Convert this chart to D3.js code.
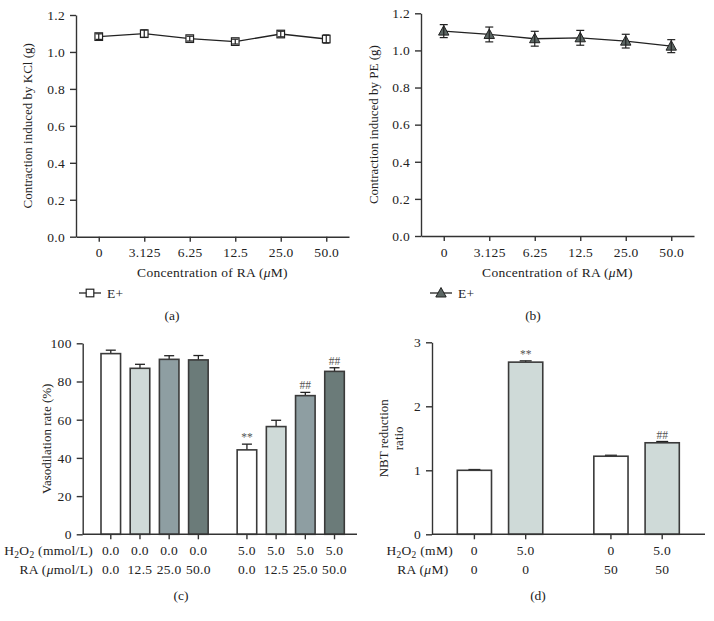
<!DOCTYPE html>
<html><head><meta charset="utf-8">
<script src="https://cdn.jsdelivr.net/npm/d3@7"></script>
<style>
body{margin:0;background:#fff;}
svg{display:block;font-family:"Liberation Serif","Times New Roman",serif;}
text{fill:#222;}
</style></head><body>
<svg id="c" width="714" height="621"></svg>
<script>
// ---------- data ----------
const concLabels = ["0", "3.125", "6.25", "12.5", "25.0", "50.0"];
const kclMean = [1.083, 1.099, 1.072, 1.056, 1.097, 1.070];
const kclErr  = [0.015, 0.020, 0.013, 0.013, 0.015, 0.022];
const peMean  = [1.104, 1.086, 1.063, 1.068, 1.050, 1.023];
const peErr   = [0.035, 0.040, 0.040, 0.040, 0.037, 0.035];
const contractionTicks = [0, 0.2, 0.4, 0.6, 0.8, 1.0, 1.2];

const vasoGroups = ["control", "H2O2"];
const vasoH2O2 = ["0.0", "0.0", "0.0", "0.0", "5.0", "5.0", "5.0", "5.0"];
const vasoRA   = ["0.0", "12.5", "25.0", "50.0", "0.0", "12.5", "25.0", "50.0"];
const vasoMean = [94.6, 86.9, 91.6, 91.3, 44.2, 56.4, 72.6, 85.3];
const vasoErr  = [1.8, 2.1, 1.9, 2.3, 3.0, 3.3, 1.7, 1.9];
const vasoSig  = ["", "", "", "", "**", "", "##", "##"];
const vasoTicks = [0, 20, 40, 60, 80, 100];

const nbtGroups = ["RA0", "RA50"];
const nbtH2O2 = ["0", "5.0", "0", "5.0"];
const nbtRA   = ["0", "0", "50", "50"];
const nbtMean = [1.00, 2.69, 1.22, 1.43];
const nbtErr  = [0.012, 0.02, 0.015, 0.02];
const nbtSig  = ["", "**", "", "##"];
const nbtTicks = [0, 1, 2, 3];

// ---------- style ----------
const AX = "#333";
const FS = 13.5;
const LS = "0.3px";
const YFS = 13;
const vasoColors = ["#ffffff", "#cfdad8", "#8e9ea2", "#6b7b79"];
const nbtColors = ["#ffffff", "#cfdad8"];
const triFill = "#5b6663";

const svg = d3.select("#c");

function styleAxis(g) {
  g.selectAll("path,line").attr("stroke", AX).attr("stroke-width", 1.4);
  g.selectAll("text").attr("font-size", FS).attr("letter-spacing", LS)
    .attr("font-family", '"Liberation Serif",serif').attr("fill", "#222");
}

function muText(sel, before, after) {
  sel.append("tspan").text(before);
  sel.append("tspan").attr("font-style", "italic").text("\u03bc");
  sel.append("tspan").text(after);
}

function h2o2Text(sel, after) {
  sel.append("tspan").text("H");
  sel.append("tspan").attr("font-size", FS * 0.7).attr("dy", 3).text("2");
  sel.append("tspan").attr("dy", -3).text("O");
  sel.append("tspan").attr("font-size", FS * 0.7).attr("dy", 3).text("2");
  sel.append("tspan").attr("dy", -3).text(after);
}

// ---------- line panels ----------
function linePanel(opt) {
  const x = d3.scalePoint().domain(concLabels).range([opt.x0, opt.x1]).padding(0.5);
  const y = d3.scaleLinear().domain([0, 1.2]).range([opt.yb, opt.yt]);
  const g = svg.append("g");
  g.append("g").attr("transform", `translate(0,${opt.yb})`)
    .call(d3.axisBottom(x).tickSize(5).tickPadding(6).tickSizeOuter(0)).call(styleAxis);
  g.append("g").attr("transform", `translate(${opt.x0},0)`)
    .call(d3.axisLeft(y).tickValues(contractionTicks).tickFormat(d3.format(".1f")).tickSize(6).tickPadding(5).tickSizeOuter(0))
    .call(styleAxis);
  const data = concLabels.map((c, i) => ({c, m: opt.mean[i], e: opt.err[i]}));
  g.append("path").datum(data)
    .attr("d", d3.line().x(d => x(d.c)).y(d => y(d.m)))
    .attr("fill", "none").attr("stroke", "#222").attr("stroke-width", 1.3);
  const pts = g.selectAll(".pt").data(data).join("g").attr("transform", d => `translate(${x(d.c)},${y(d.m)})`);
  opt.marker(pts);
  pts.append("line").attr("y1", d => y(d.m + d.e) - y(d.m)).attr("y2", d => y(d.m - d.e) - y(d.m))
    .attr("stroke", "#222").attr("stroke-width", 1.2);
  [1, -1].forEach(s => {
    pts.append("line").attr("x1", -opt.cap).attr("x2", opt.cap)
      .attr("y1", d => y(d.m + s * d.e) - y(d.m)).attr("y2", d => y(d.m + s * d.e) - y(d.m))
      .attr("stroke", "#222").attr("stroke-width", 1.2);
  });
  // y label
  g.append("text").attr("transform", `translate(${opt.ylx},${(opt.yb + opt.yt) / 2}) rotate(-90)`)
    .attr("text-anchor", "middle").attr("dy", "0.35em").attr("font-size", YFS).text(opt.ylabel);
  // x label
  const xl = g.append("text").attr("x", (opt.x0 + opt.x1) / 2).attr("y", 276.5)
    .attr("text-anchor", "middle").attr("font-size", FS).attr("letter-spacing", LS);
  muText(xl, "Concentration of RA (", "M)");
  // legend
  const lg = g.append("g").attr("transform", `translate(${opt.lgx},293)`);
  lg.append("line").attr("x1", -11).attr("x2", 11).attr("stroke", "#222").attr("stroke-width", 1.3);
  opt.marker(lg);
  lg.append("text").attr("x", 17).attr("dy", "0.35em").attr("font-size", FS).attr("letter-spacing", LS).text("E+");
  // caption
  g.append("text").attr("x", opt.capx).attr("y", 320).attr("text-anchor", "middle").attr("font-size", FS).text(opt.caption);
}

linePanel({
  x0: 76, x1: 349, yb: 236.7, yt: 15, mean: kclMean, err: kclErr, cap: 3.2,
  ylabel: "Contraction induced by KCl (g)", ylx: 27, lgx: 90, capx: 172, caption: "(a)",
  marker: s => s.append("rect").attr("x", -3.8).attr("y", -3.8).attr("width", 7.6).attr("height", 7.6)
    .attr("fill", "#fff").attr("stroke", "#222").attr("stroke-width", 1.2)
});
linePanel({
  x0: 421, x1: 694, yb: 236, yt: 13.3, mean: peMean, err: peErr, cap: 4,
  ylabel: "Contraction induced by PE (g)", ylx: 373, lgx: 441, capx: 533, caption: "(b)",
  marker: s => s.append("path").attr("d", "M0,-5.5L5.2,4L-5.2,4Z")
    .attr("fill", triFill).attr("stroke", "#222").attr("stroke-width", 1)
});

// ---------- bar panels ----------
function barPanel(opt) {
  const n = opt.mean.length, per = n / opt.groups.length;
  const gx = d3.scaleBand().domain(opt.groups).range([opt.b0, opt.b1]).paddingInner(opt.gpad).paddingOuter(0);
  const ix = d3.scaleBand().domain(d3.range(per)).range([0, gx.bandwidth()]).paddingInner(opt.ipad).paddingOuter(0);
  const y = d3.scaleLinear().domain(opt.ydomain).range([opt.yb, opt.yt]);
  const data = opt.mean.map((m, i) => {
    const grp = opt.groups[Math.floor(i / per)], k = i % per;
    return {m, e: opt.err[i], sig: opt.sig[i], k, x: gx(grp) + ix(k), cx: gx(grp) + ix(k) + ix.bandwidth() / 2,
      h: opt.h2o2[i], ra: opt.ra[i]};
  });
  const g = svg.append("g");
  // error bars (upward)
  g.selectAll(".eb").data(data).join("line")
    .attr("x1", d => d.cx).attr("x2", d => d.cx).attr("y1", d => y(d.m)).attr("y2", d => y(d.m + d.e))
    .attr("stroke", "#222").attr("stroke-width", 1.3);
  g.selectAll(".ec").data(data).join("line")
    .attr("x1", d => d.cx - opt.cap).attr("x2", d => d.cx + opt.cap).attr("y1", d => y(d.m + d.e)).attr("y2", d => y(d.m + d.e))
    .attr("stroke", "#222").attr("stroke-width", 1.3);
  g.selectAll(".bar").data(data).join("rect")
    .attr("x", d => d.x).attr("width", ix.bandwidth())
    .attr("y", d => y(d.m)).attr("height", d => y(0) - y(d.m))
    .attr("fill", d => opt.colors[d.k]).attr("stroke", "#3a3a3a").attr("stroke-width", 1.6);
  g.selectAll(".sig").data(data.filter(d => d.sig)).join("text")
    .attr("x", d => d.cx).attr("y", d => y(d.m + d.e) - 3).attr("text-anchor", "middle")
    .attr("font-size", 11.5).style("fill", "#555").text(d => d.sig);
  // axes
  g.append("g").attr("transform", `translate(${opt.ax0},0)`)
    .call(d3.axisLeft(y).tickValues(opt.ticks).tickFormat(d3.format("d")).tickSize(6).tickPadding(5).tickSizeOuter(0)).call(styleAxis);
  g.append("line").attr("x1", opt.ax0).attr("x2", opt.ax1).attr("y1", opt.yb).attr("y2", opt.yb)
    .attr("stroke", AX).attr("stroke-width", 1.4);
  g.selectAll(".xt").data(data).join("line")
    .attr("x1", d => d.cx).attr("x2", d => d.cx).attr("y1", opt.yb).attr("y2", opt.yb + 5)
    .attr("stroke", AX).attr("stroke-width", 1.4);
  // condition rows
  g.selectAll(".r1").data(data).join("text").attr("x", d => d.cx).attr("y", 554.5)
    .attr("text-anchor", "middle").attr("font-size", FS).attr("letter-spacing", LS).text(d => d.h);
  g.selectAll(".r2").data(data).join("text").attr("x", d => d.cx).attr("y", 573.5)
    .attr("text-anchor", "middle").attr("font-size", FS).attr("letter-spacing", LS).text(d => d.ra);
  const l1 = g.append("text").attr("x", opt.rlx).attr("y", 554.5).attr("text-anchor", "end").attr("font-size", FS).attr("letter-spacing", LS);
  h2o2Text(l1, opt.h2o2Unit);
  const l2 = g.append("text").attr("x", opt.rlx2).attr("y", 573.5).attr("text-anchor", "end").attr("font-size", FS).attr("letter-spacing", LS);
  muText(l2, "RA (", opt.raUnit);
  // y label
  const yl = g.append("text").attr("transform", `translate(${opt.ylx},${(opt.yb + opt.yt) / 2}) rotate(-90)`)
    .attr("text-anchor", "middle").attr("font-size", YFS);
  opt.ylabel.forEach((t, i) => yl.append("tspan").attr("x", 0).attr("dy", i === 0 ? `${0.35 - (opt.ylabel.length - 1) * 0.6}em` : "1.2em").text(t));
  g.append("text").attr("x", opt.capx).attr("y", 600).attr("text-anchor", "middle").attr("font-size", FS).text(opt.caption);
}

barPanel({
  groups: vasoGroups, mean: vasoMean, err: vasoErr, sig: vasoSig, h2o2: vasoH2O2, ra: vasoRA,
  colors: vasoColors, b0: 101, b1: 344.3, gpad: 0.213, ipad: 0.33,
  ydomain: [0, 100], yb: 534.3, yt: 343.3, ticks: vasoTicks, ax0: 82.7, ax1: 357, cap: 5,
  rlx: 93, rlx2: 93, h2o2Unit: " (mmol/L)", raUnit: "mol/L)",
  ylabel: ["Vasodilation rate (%)"], ylx: 46.5, capx: 181, caption: "(c)"
});
barPanel({
  groups: nbtGroups, mean: nbtMean, err: nbtErr, sig: nbtSig, h2o2: nbtH2O2, ra: nbtRA,
  colors: nbtColors, b0: 457.3, b1: 679.3, gpad: 0.374, ipad: 0.333,
  ydomain: [0, 3], yb: 534.3, yt: 342.3, ticks: nbtTicks, ax0: 432, ax1: 705, cap: 6,
  rlx: 453, rlx2: 448.5, h2o2Unit: " (mM)", raUnit: "M)",
  ylabel: ["NBT reduction", "ratio"], ylx: 391, capx: 538, caption: "(d)"
});
</script></body></html>
